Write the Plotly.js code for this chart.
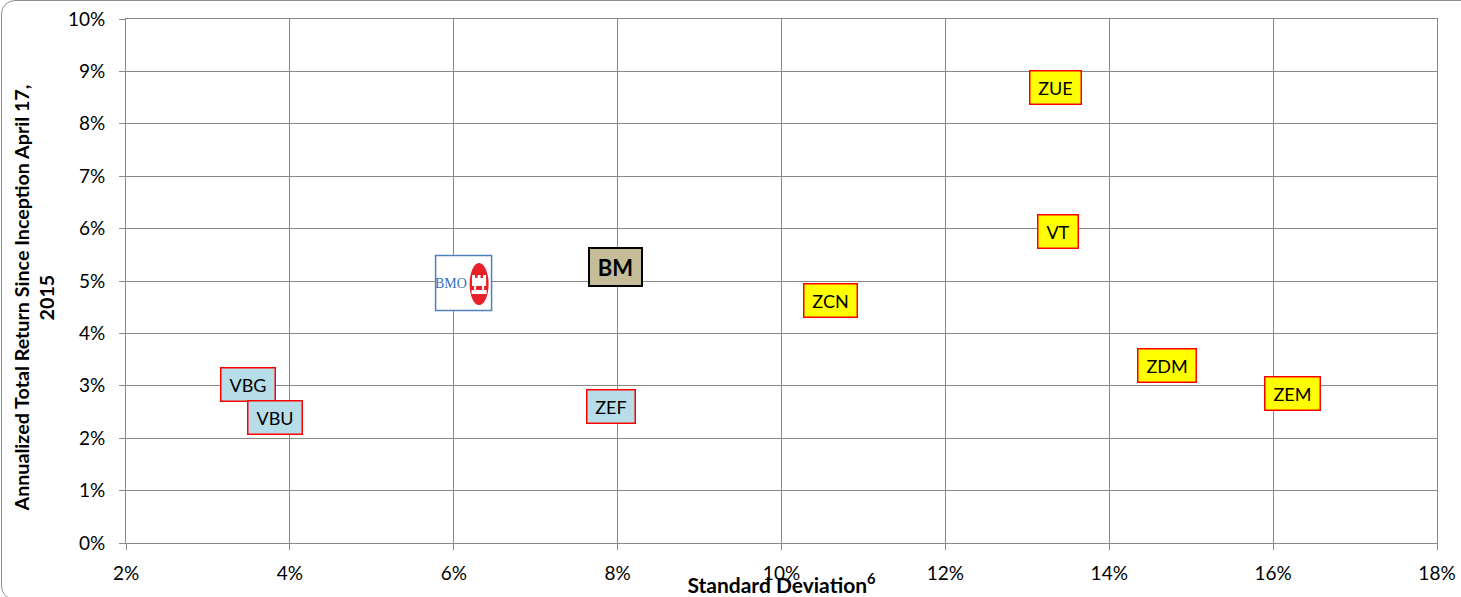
<!DOCTYPE html>
<html>
<head>
<meta charset="utf-8">
<script src="https://cdn.plot.ly/plotly-3.0.1.min.js"></script>
<style>
  html, body { margin: 0; padding: 0; background: #ffffff; overflow: hidden; }
  #chart { width: 1461px; height: 597px; position: absolute; left: 0; top: 0; }
  #frame { position: absolute; left: 1px; top: 0px; width: 1500px; height: 600px;
           border: 1.5px solid #8e8e8e; border-radius: 14px; pointer-events: none; box-sizing: border-box; }
</style>
</head>
<body>
<div id="chart"></div>
<div id="frame"></div>
<script>
// ---- data (percent) ----
const tickers   = ['ZUE', 'VT', 'ZCN', 'ZDM', 'ZEM', 'VBG', 'VBU', 'ZEF'];
const stdDev    = [13.34, 13.37, 10.60, 14.70, 16.24, 3.49, 3.82, 7.92];
const annReturn = [8.70, 5.95, 4.62, 3.38, 2.86, 3.03, 2.39, 2.61];
const groups    = ['equity', 'equity', 'equity', 'equity', 'equity', 'bond', 'bond', 'bond'];

const bmLabel = 'BM';
const bmStdDev = 7.97;
const bmReturn = 5.27;

const bmoLabel = 'BMO';
const bmoStdDev = 6.12;
const bmoReturn = 4.96;

const xTickVals  = [2, 4, 6, 8, 10, 12, 14, 16, 18];
const xTickText  = ['2%', '4%', '6%', '8%', '10%', '12%', '14%', '16%', '18%'];
const yTickVals  = [0, 1, 2, 3, 4, 5, 6, 7, 8, 9, 10];
const yTickText  = ['0%', '1%', '2%', '3%', '4%', '5%', '6%', '7%', '8%', '9%', '10%'];

const xTitle = 'Standard Deviation<sup>6</sup>';
const yTitle = 'Annualized Total Return Since Inception April 17,<br>2015';

// ---- styles ----
const groupFill = { equity: '#ffff00', bond: '#b7dde8' };
const FONT = 'Lato, "Open Sans", sans-serif';

const canvas = document.createElement('canvas');
const ctx = canvas.getContext('2d');
function textWidth(t, font) { ctx.font = font; return ctx.measureText(t).width; }

const annotations = tickers.map((t, i) => ({
  x: stdDev[i], y: annReturn[i], xref: 'x', yref: 'y',
  text: t, showarrow: false,
  font: { family: FONT, size: 18, color: '#000000' },
  bgcolor: groupFill[groups[i]],
  bordercolor: '#ff0000', borderwidth: 1.5, borderpad: 3,
  width: Math.round(textWidth(t, '18px Lato') + 10), height: 26,
  xanchor: 'center', yanchor: 'middle'
}));

annotations.push({
  x: bmStdDev, y: bmReturn, xref: 'x', yref: 'y',
  text: '<b>' + bmLabel + '</b>', showarrow: false,
  font: { family: FONT, size: 22, color: '#000000' },
  bgcolor: '#c4bd97', bordercolor: '#000000', borderwidth: 2, borderpad: 3,
  width: 45, height: 30, xanchor: 'center', yanchor: 'middle'
});

annotations.push({
  x: bmoStdDev, y: bmoReturn, xref: 'x', yref: 'y',
  text: bmoLabel, showarrow: false,
  font: { family: '"Liberation Serif", "DejaVu Serif", serif', size: 14, color: '#3a6fb8' },
  xshift: -12.5, yshift: 0,
  xanchor: 'center', yanchor: 'middle'
});

// y-axis title (two centred lines, rotated)
annotations.push({
  xref: 'paper', yref: 'paper', x: 0, y: 0.5,
  xshift: -92.5, yshift: -17,
  text: '<b>' + yTitle + '</b>', textangle: -90, showarrow: false,
  font: { family: FONT, size: 19.7, color: '#000000' },
  xanchor: 'center', yanchor: 'middle', align: 'center'
});

const shapes = [
  { type: 'rect', xref: 'x', yref: 'y', xsizemode: 'pixel', ysizemode: 'pixel',
    xanchor: bmoStdDev, yanchor: bmoReturn,
    x0: -28, x1: 28, y0: -27.5, y1: 27.5,
    fillcolor: '#ffffff', line: { color: '#4f81bd', width: 1.5 }, layer: 'above' },
  { type: 'circle', xref: 'x', yref: 'y', xsizemode: 'pixel', ysizemode: 'pixel',
    xanchor: bmoStdDev, yanchor: bmoReturn,
    x0: 6, x1: 25, y0: -22, y1: 20,
    fillcolor: '#e8202a', line: { width: 0 }, layer: 'above' },
  { type: 'path', xref: 'x', yref: 'y', xsizemode: 'pixel', ysizemode: 'pixel',
    xanchor: bmoStdDev, yanchor: bmoReturn,
    path: 'M 8.5 8 L 11.5 8 L 11.5 5 L 14 5 L 14 8 L 17 8 L 17 5 L 19.5 5 L 19.5 8 L 22.5 8 L 22.5 -3 L 20.5 -3 L 20.5 -7 L 23 -7 L 23 -11 L 8 -11 L 8 -7 L 10.5 -7 L 10.5 -3 L 8.5 -3 Z M 12.5 -3 L 12.5 -7 L 18.5 -7 L 18.5 -3 Z',
    fillcolor: '#ffffff', line: { width: 0 }, layer: 'above' }
];

const traces = [{
  type: 'scatter', mode: 'markers',
  x: stdDev.concat([bmStdDev, bmoStdDev]),
  y: annReturn.concat([bmReturn, bmoReturn]),
  text: tickers.concat([bmLabel, bmoLabel]),
  hovertemplate: '%{text}<br>Std dev: %{x:.2f}%<br>Return: %{y:.2f}%<extra></extra>',
  marker: { size: 10, opacity: 0 },
  showlegend: false
}];

const axisCommon = {
  showgrid: true, gridcolor: '#888888', gridwidth: 1,
  showline: true, linecolor: '#888888', linewidth: 1, mirror: true,
  ticks: 'outside', ticklen: 6, tickcolor: '#888888', tickwidth: 1,
  zeroline: false,
  tickfont: { family: FONT, size: 19, color: '#000000' },
  automargin: false, fixedrange: true
};

const layout = {
  width: 1461, height: 597,
  margin: { l: 126, r: 24, t: 19, b: 54 },
  paper_bgcolor: 'rgba(0,0,0,0)', plot_bgcolor: '#ffffff',
  showlegend: false,
  xaxis: Object.assign({}, axisCommon, {
    range: [2, 18], tickmode: 'array', tickvals: xTickVals, ticktext: xTickText,
    ticklabelstandoff: 7,
    title: { text: '<b>' + xTitle + '</b>', standoff: 3,
             font: { family: FONT, size: 21, color: '#000000' } }
  }),
  yaxis: Object.assign({}, axisCommon, {
    range: [0, 10], tickmode: 'array', tickvals: yTickVals, ticktext: yTickText,
    ticklabelstandoff: 10
  }),
  annotations: annotations,
  shapes: shapes
};

Plotly.newPlot('chart', traces, layout, { displayModeBar: false, staticPlot: false });
</script>
</body>
</html>
